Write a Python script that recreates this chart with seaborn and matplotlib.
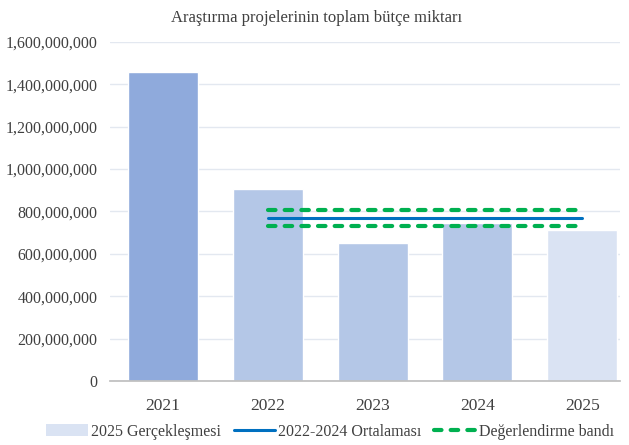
import pandas as pd
import matplotlib.pyplot as plt
import seaborn as sns
from matplotlib.patches import Patch
from matplotlib.lines import Line2D
from matplotlib.ticker import FuncFormatter

# Data
years = ['2021', '2022', '2023', '2024', '2025']
budget = [1458000000, 906000000, 651000000, 744000000, 714000000]
bar_colors = ['#8FAADC', '#B4C7E7', '#B4C7E7', '#B4C7E7', '#DAE3F3']

line_years = ['2022', '2023', '2024', '2025']
avg_2022_2024 = [767000000, 767000000, 767000000, 767000000]
band_upper = [805000000, 805000000, 805000000, 805000000]
band_lower = [729000000, 729000000, 729000000, 729000000]

df = pd.DataFrame({'year': years, 'budget': budget})

sns.set_theme(style="white")
plt.rcParams['font.family'] = ['Liberation Serif', 'DejaVu Serif']

fig = plt.figure(figsize=(6.29, 4.45), dpi=100)
ax = fig.add_axes([0.175, 0.144, 0.811, 0.762])

sns.barplot(data=df, x='year', y='budget', hue='year', palette=bar_colors,
            legend=False, width=0.67, ax=ax, saturation=1)

dash = (0, (1.8, 2.2))
xpos = [years.index(y) for y in line_years]
ax.plot(xpos, avg_2022_2024, color='#0070C0', lw=2.2, solid_capstyle='round', zorder=3)
ax.plot(xpos, band_upper, color='#00B050', lw=3, ls=dash, dash_capstyle='round', zorder=3)
ax.plot(xpos, band_lower, color='#00B050', lw=3, ls=dash, dash_capstyle='round', zorder=3)

ax.set_ylim(0, 1600000000)
ax.set_xlim(-0.506, 4.363)
ax.set_yticks(range(0, 1600000001, 200000000))
ax.yaxis.set_major_formatter(FuncFormatter(lambda v, p: f'{int(v):,}'))
ax.grid(axis='y', color='#E3E8F0', lw=1)
ax.set_axisbelow(True)
for s in ['top', 'right', 'left']:
    ax.spines[s].set_visible(False)
ax.spines['bottom'].set_color('#BFBFBF')
ax.set_xlabel('')
ax.set_ylabel('')
ax.tick_params(axis='y', labelsize=11.5, length=0, pad=9)
ax.tick_params(axis='x', labelsize=12.5, length=0, pad=12)
for lab in ax.get_yticklabels() + ax.get_xticklabels():
    lab.set_color('#404040')

ax.set_title('Araştırma projelerinin toplam bütçe miktarı', fontsize=12,
             color='#404040', pad=14, x=0.405)

handles = [
    Patch(facecolor='#DAE3F3', edgecolor='none'),
    Line2D([], [], color='#0070C0', lw=2.2),
    Line2D([], [], color='#00B050', lw=3, ls=dash, dash_capstyle='round'),
]
labels = ['2025 Gerçekleşmesi', '2022-2024 Ortalaması', 'Değerlendirme bandı']
fig.legend(handles, labels, loc='center', bbox_to_anchor=(0.525, 0.03), ncol=3,
           frameon=False, fontsize=11.5, handlelength=2.6, handletextpad=0.2,
           columnspacing=0.8, labelcolor='#404040', borderpad=0)

fig.savefig('out.png', dpi=100)
